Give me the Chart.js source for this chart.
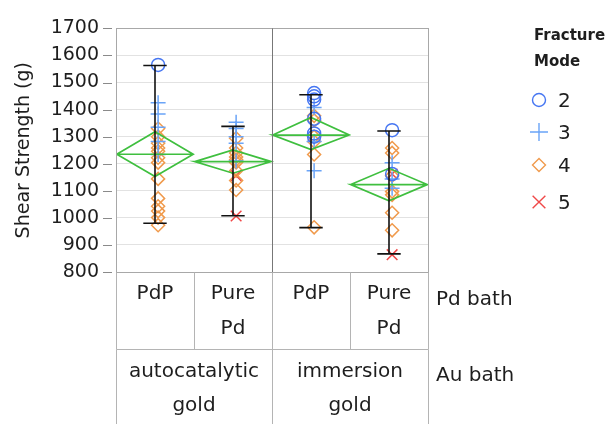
<!DOCTYPE html>
<html>
<head>
<meta charset="utf-8">
<script src="https://cdn.jsdelivr.net/npm/chart.js@4.4.0/dist/chart.umd.min.js"></script>
<style>
  html, body { margin: 0; padding: 0; background: #fff; }
  #wrap { width: 608px; height: 424px; }
</style>
</head>
<body>
<div id="wrap"><canvas id="varChart" width="608" height="424"></canvas></div>
<script>
// categories
const pdBath = ["PdP", "Pure\nPd", "PdP", "Pure\nPd"];
const auBath = ["autocatalytic\ngold", "immersion\ngold"];
const factorNames = ["Pd bath", "Au bath"];
const yTicks = [800, 900, 1000, 1100, 1200, 1300, 1400, 1500, 1600, 1700];
const modeNames = ["2", "3", "4", "5"];

// group summaries (mean diamonds and range bars)
const means = [1235, 1208, 1306, 1123];
const meanLower = [1153, 1165, 1252, 1063];
const meanUpper = [1318, 1251, 1371, 1183];
const rangeLow = [980, 1008, 964, 867];
const rangeHigh = [1563, 1338, 1455, 1321];

// observations per cell, by fracture mode
const mode2 = [[1565], [], [1461, 1449, 1437, 1366, 1312, 1300], [1324, 1162]];
const mode3 = [[1425, 1384, 1335, 1282, 1234], [1353, 1330, 1300, 1276, 1210],
               [1408, 1282, 1174], [1204, 1144, 1109]];
const mode4 = [[1330, 1300, 1276, 1258, 1246, 1222, 1204, 1144, 1072, 1043, 1025, 1001, 973],
               [1294, 1258, 1240, 1225, 1215, 1205, 1174, 1138, 1103],
               [1377, 1360, 1300, 1282, 1234, 965],
               [1258, 1240, 1156, 1097, 1085, 1019, 954]];
const mode5 = [[], [1156, 1007], [], [1162, 864]];

const GREEN = "#3fbf3f";
const modeColors = ["#4676f2", "#6aa4f7", "#f09a4c", "#f04848"];
const modeStyles = ["circle", "cross", "rectRot", "crossRot"];
const modeRadius = [6.5, 7.5, 6.5, 7.5];
const FONT = "'DejaVu Sans', sans-serif";

const centers = pdBath.map((_, i) => i + 0.5);
const datasets = [];

// range bars
centers.forEach((c, i) => {
  datasets.push({
    type: "line",
    data: [
      { x: c - 0.15, y: rangeHigh[i] }, { x: c + 0.15, y: rangeHigh[i] },
      { x: c, y: rangeHigh[i] }, { x: c, y: rangeLow[i] },
      { x: c - 0.15, y: rangeLow[i] }, { x: c + 0.15, y: rangeLow[i] },
    ],
    borderColor: "#111",
    borderWidth: 1.6,
    pointRadius: 0,
    tension: 0,
  });
});

// mean diamonds
centers.forEach((c, i) => {
  datasets.push({
    type: "line",
    data: [
      { x: c - 0.49, y: means[i] }, { x: c, y: meanUpper[i] },
      { x: c + 0.49, y: means[i] }, { x: c, y: meanLower[i] },
      { x: c - 0.49, y: means[i] }, { x: c + 0.49, y: means[i] },
    ],
    borderColor: GREEN,
    borderWidth: 1.7,
    pointRadius: 0,
    tension: 0,
  });
});

// points
[mode2, mode3, mode4, mode5].forEach((mode, m) => {
  datasets.push({
    type: "scatter",
    label: modeNames[m],
    data: mode.flatMap((vals, i) => vals.map(v => ({ x: centers[i] + 0.04, y: v }))),
    pointStyle: modeStyles[m],
    pointRadius: modeRadius[m],
    borderColor: modeColors[m],
    backgroundColor: "rgba(0,0,0,0)",
    borderWidth: 1.5,
  });
});

function drawMarker(ctx, style, x, y, r) {
  ctx.beginPath();
  if (style === "circle") {
    ctx.arc(x, y, r, 0, Math.PI * 2);
  } else if (style === "cross") {
    ctx.moveTo(x - r, y); ctx.lineTo(x + r, y);
    ctx.moveTo(x, y - r); ctx.lineTo(x, y + r);
  } else if (style === "rectRot") {
    ctx.moveTo(x - r, y); ctx.lineTo(x, y - r);
    ctx.lineTo(x + r, y); ctx.lineTo(x, y + r); ctx.closePath();
  } else {
    const d = r * Math.SQRT1_2;
    ctx.moveTo(x - d, y - d); ctx.lineTo(x + d, y + d);
    ctx.moveTo(x + d, y - d); ctx.lineTo(x - d, y + d);
  }
  ctx.stroke();
}

// frame, tick marks, bottom factor table and legend
const tablePlugin = {
  id: "tablePlugin",
  afterDraw(chart) {
    const { ctx, chartArea: a, scales } = chart;
    const xs = scales.x, ys = scales.y;
    const px = v => Math.round(xs.getPixelForValue(v)) + 0.5;
    ctx.save();
    ctx.lineWidth = 1;

    // tick marks
    ctx.strokeStyle = "#8a8a8a";
    yTicks.forEach(t => {
      const y = Math.round(ys.getPixelForValue(t)) + 0.5;
      ctx.beginPath(); ctx.moveTo(103, y); ctx.lineTo(112, y); ctx.stroke();
    });

    // plot frame
    ctx.strokeStyle = "#a8a8a8";
    ctx.strokeRect(px(0), Math.round(a.top) + 0.5, px(4) - px(0), Math.round(a.bottom) - Math.round(a.top));
    ctx.strokeStyle = "#777";
    ctx.beginPath(); ctx.moveTo(px(2), a.top); ctx.lineTo(px(2), a.bottom); ctx.stroke();

    // table lines
    const r1 = Math.round(a.bottom) + 0.5, r2 = 349.5, r3 = 424;
    ctx.strokeStyle = "#b4b4b4";
    ctx.beginPath(); ctx.moveTo(px(0), r2); ctx.lineTo(px(4), r2); ctx.stroke();
    [0, 1, 2, 3, 4].forEach(v => {
      ctx.beginPath(); ctx.moveTo(px(v), r1); ctx.lineTo(px(v), r2); ctx.stroke();
    });
    [0, 2, 4].forEach(v => {
      ctx.beginPath(); ctx.moveTo(px(v), r2); ctx.lineTo(px(v), r3); ctx.stroke();
    });

    // table text
    ctx.fillStyle = "#1e1e1e";
    ctx.font = "20px " + FONT;
    ctx.textAlign = "center";
    ctx.textBaseline = "alphabetic";
    pdBath.forEach((lbl, i) => {
      lbl.split("\n").forEach((ln, k) => ctx.fillText(ln, xs.getPixelForValue(centers[i]), 299 + k * 35));
    });
    auBath.forEach((lbl, i) => {
      lbl.split("\n").forEach((ln, k) => ctx.fillText(ln, xs.getPixelForValue(i * 2 + 1), 377 + k * 34));
    });
    ctx.textAlign = "left";
    ctx.fillText(factorNames[0], 436, 305);
    ctx.fillText(factorNames[1], 436, 381);

    // legend
    ctx.font = "bold 15px " + FONT;
    ctx.fillText("Fracture", 534, 40);
    ctx.fillText("Mode", 534, 66);
    const legY = [100, 132, 165, 202];
    ctx.font = "20px " + FONT;
    modeNames.forEach((name, m) => {
      ctx.strokeStyle = modeColors[m];
      ctx.lineWidth = 1.4;
      drawMarker(ctx, modeStyles[m], 539, legY[m], m === 1 || m === 3 ? 9 : 6.5);
      ctx.fillStyle = "#1e1e1e";
      ctx.fillText(name, 558, legY[m] + 7);
    });
    ctx.restore();
  },
};

new Chart(document.getElementById("varChart"), {
  type: "scatter",
  data: { datasets: datasets },
  plugins: [tablePlugin],
  options: {
    responsive: false,
    animation: false,
    layout: { padding: { top: 21, right: 180, bottom: 152, left: 0 } },
    plugins: {
      legend: { display: false },
      tooltip: { enabled: false },
    },
    scales: {
      x: {
        type: "linear",
        min: 0,
        max: 4,
        display: false,
      },
      y: {
        min: 800,
        max: 1700,
        afterBuildTicks: s => { s.ticks = yTicks.map(v => ({ value: v })); },
        afterFit: s => { s.width = 116; },
        border: { display: false },
        grid: { color: "#e2e2e2", drawTicks: false },
        ticks: {
          padding: 17,
          color: "#1e1e1e",
          font: { family: FONT, size: 19 },
          callback: v => String(v),
        },
        title: {
          display: true,
          text: "Shear Strength (g)",
          color: "#1e1e1e",
          font: { family: FONT, size: 19 },
          padding: { top: 13, bottom: 0 },
        },
      },
    },
  },
});
</script>
</body>
</html>
